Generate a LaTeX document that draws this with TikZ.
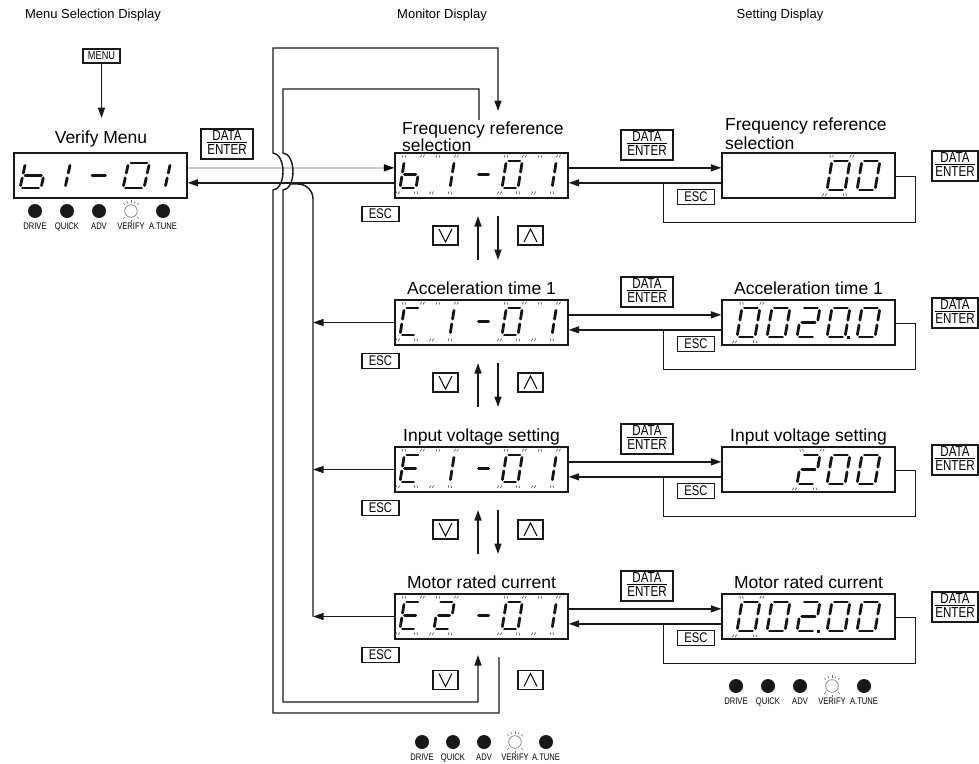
\documentclass[tikz,border=0pt]{standalone}
\usepackage{fontspec}
\setmainfont{Liberation Sans}
\newfontfamily\narrowfont[FakeStretch=0.8]{Liberation Sans}
\usetikzlibrary{arrows.meta,calc}

\tikzset{
  ln/.style={line width=1.45pt, draw=black!90},
  arr/.style={ln, -{Triangle[length=10.5pt,width=7pt]}},
  grayarr/.style={line width=1.5pt, draw=black!20, -{Triangle[length=10.5pt,width=7pt,color=black]}},
  disp/.style={draw=black!90, line width=1.3pt, minimum width=173pt, minimum height=45pt, inner sep=0pt},
  btn/.style={draw=black!90, line width=1.1pt, inner sep=0pt},
  de/.style={btn, minimum width=52pt, minimum height=30pt},
  der/.style={btn, minimum width=46pt, minimum height=30pt},
  escb/.style={btn, minimum width=37pt, minimum height=15.5pt, font=\narrowfont\fontsize{14}{14}\selectfont},
  keyb/.style={btn, minimum width=25pt, minimum height=19pt},
  lbl/.style={inner sep=0pt, font=\fontsize{17.5}{17.5}\selectfont},
  ttl/.style={inner sep=0pt, font=\fontsize{13}{13}\selectfont},
  ledlbl/.style={inner sep=0pt, anchor=base, font=\narrowfont\fontsize{9.5}{9.5}\selectfont},
  seg/.style={line width=2.8pt, line cap=round, draw=black!92},
  tick/.style={line width=0.6pt, draw=black!70},
}

\def\sgap{2.4}
\newcommand\segA{\draw[seg] (\sgap,-\sgh) -- ({\sgw-\sgap},-\sgh);}
\newcommand\segB{\draw[seg] (\sgw,{-\sgh+\sgap}) -- (\sgw,{-\sgh/2-\sgap});}
\newcommand\segC{\draw[seg] (\sgw,{-\sgh/2+\sgap}) -- (\sgw,-\sgap);}
\newcommand\segD{\draw[seg] (\sgap,0) -- ({\sgw-\sgap},0);}
\newcommand\segE{\draw[seg] (0,{-\sgh/2+\sgap}) -- (0,-\sgap);}
\newcommand\segF{\draw[seg] (0,{-\sgh+\sgap}) -- (0,{-\sgh/2-\sgap});}
\newcommand\segG{\draw[seg] (\sgap,{-\sgh/2}) -- ({\sgw-\sgap},{-\sgh/2});}
\newcommand\dZero{\segA\segB\segC\segD\segE\segF}
\newcommand\dOne{\segB\segC}
\newcommand\dTwo{\segA\segB\segG\segE\segD}
\newcommand\dLb{\segF\segE\segD\segC\segG}
\newcommand\dCc{\segA\segF\segE\segD}
\newcommand\dEe{\segA\segF\segG\segE\segD}
\newcommand\dDash{\segG}

% digit: x0, ybottom, w, h, slant, segments
\newcommand\dg[6]{\begin{scope}[shift={(#1,#2)},xslant=#5]\def\sgw{#3}\def\sgh{#4}#6\end{scope}}
% blink ticks: x0, ybottom, w, h, slant
\newcommand\blk[5]{\begin{scope}[shift={(#1,#2)},xslant=#5]\def\sgw{#3}\def\sgh{#4}%
  \draw[tick] (-2,{-\sgh-3.5}) -- ++(-1.2,-2.6) (0.8,{-\sgh-3.5}) -- ++(-1.2,-2.6)
   ({\sgw-0.8},{-\sgh-3.5}) -- ++(1.2,-2.6) ({\sgw+2},{-\sgh-3.5}) -- ++(1.2,-2.6)
   (-2.5,3.5) -- ++(-1.2,2.6) (0.3,3.5) -- ++(-1.2,2.6)
   ({\sgw-1.3},3.5) -- ++(1.2,2.6) ({\sgw+1.5},3.5) -- ++(1.2,2.6);
  \end{scope}}
% monitor digits
\newcommand\mon[3]{\dg{400+34*#2}{#1+35}{16}{27}{0.16}{#3}}
\newcommand\mblk[2]{\blk{400+34*#2}{#1+35}{16}{27}{0.16}}
\newcommand\monrow[3]{\mon{#1}{0}{#2}\mblk{#1}{0}\mon{#1}{1}{#3}\mblk{#1}{1}%
  \dg{474}{#1+35}{15}{27}{0.16}{\dDash}\mon{#1}{3}{\dZero}\mblk{#1}{3}\mon{#1}{4}{\dOne}\mblk{#1}{4}}
% setting digits
\newcommand\setd[3]{\dg{737+30*#2}{#1+37}{18}{29}{0.17}{#3}}
\newcommand\sblk[2]{\blk{737+30*#2}{#1+37}{18}{29}{0.17}}
\newcommand\sdot[2]{\fill[black!92] (737+30*#2+18+2.2,#1+37-1.5) rectangle ++(3,3);}

\newcommand\dataenter{\narrowfont\fontsize{14.5}{12}\selectfont\setlength\arrayrulewidth{0.9pt}%
  \renewcommand\arraystretch{0.8}%
  \begin{tabular}{@{}c@{}}DATA\\[-1.5pt]\hline\rule{0pt}{11.3pt}ENTER\end{tabular}}

\newcommand\ledrow[4]{%
 \foreach \k/\t in {0/DRIVE,1/QUICK,2/ADV,3/VERIFY,4/A.TUNE}{%
  \pgfmathsetmacro\lx{#1+#3*\k}%
  \ifnum\k=3
    \draw[black!50,fill=white,line width=0.7pt] (\lx,#2) circle[radius=6.3pt];
    \foreach \a in {45,67.5,90,112.5,135,225,270,315}{\draw[black!55,line width=0.6pt] ($(\lx,#2)+(\a:8.5pt)$) -- ($(\lx,#2)+(\a:11pt)$);}
  \else
    \fill[black!90] (\lx,#2) circle[radius=7pt];
  \fi
  \node[ledlbl] (#4\k) at (\lx,#2+18.5) {\t};
 }}

\begin{document}
\begin{tikzpicture}[x=1pt,y=-1pt]
\useasboundingbox (0,0) rectangle (979,763);

% titles
\node[ttl] (tA) at (93,15) {Menu Selection Display};
\node[ttl] (tB) at (442,15) {Monitor Display};
\node[ttl] (tC) at (780,15) {Setting Display};

% menu selection column
\node[btn,font=\narrowfont\fontsize{11.5}{11.5}\selectfont,minimum width=37pt,minimum height=14pt] (mb) at (101.5,56) {MENU};
\coordinate (vtip) at (101.5,118);
\draw[arr] (mb.south) -- (vtip);
\node[lbl,anchor=base] (vl) at (101,143) {Verify Menu};
\node[disp] (v) at (100.5,175.5) {};
\node[de] (de0) at (227,144) {\dataenter};
\dg{20}{188}{21}{25}{0.22}{\dLb}
\dg{44}{188}{21}{25}{0.22}{\dOne}
\dg{87}{188}{18}{25}{0.22}{\dDash}
\dg{123}{188}{21}{25}{0.22}{\dZero}
\dg{144}{188}{21}{25}{0.22}{\dOne}
\ledrow{35}{211}{32}{lv}

% rows
\foreach \i/\T in {1/153,2/300,3/447,4/594}{
  \node[disp] (m\i) at (481.5,\T+22.5) {};
  \node[disp] (s\i) at (808.5,\T+22.5) {};
  \node[de] (dm\i) at (647,\T-8) {\dataenter};
  \node[der] (dr\i) at (955,\T+13) {\dataenter};
  \node[escb] (es\i) at (696,\T+44) {ESC};
  \node[escb] (em\i) at (380.5,\T+61) {ESC};
  \draw[arr] ($(m\i.north east)+(0,15.5)$) -- ($(s\i.north west)+(0,15.5)$);
  \draw[arr] ($(s\i.north west)+(0,30.5)$) -- ($(m\i.north east)+(0,30.5)$);
  \draw[ln] ($(s\i.north east)+(0,24)$) -| ($(s\i.north east)+(20,70)$) -| ($(s\i.north west)+(-58,30.5)$);
}

% labels
\node[lbl,anchor=base west] (ml1a) at (402,134) {Frequency reference};
\node[lbl,anchor=base west] (ml1b) at (402,151) {selection};
\node[lbl,anchor=base] (ml2) at (481.5,294) {Acceleration time 1};
\node[lbl,anchor=base] (ml3) at (481.5,441) {Input voltage setting};
\node[lbl,anchor=base] (ml4) at (481.5,588) {Motor rated current};
\node[lbl,anchor=base west] (sl1a) at (725,130) {Frequency reference};
\node[lbl,anchor=base west] (sl1b) at (725,149) {selection};
\node[lbl,anchor=base] (sl2) at (808.5,294) {Acceleration time 1};
\node[lbl,anchor=base] (sl3) at (808.5,441) {Input voltage setting};
\node[lbl,anchor=base] (sl4) at (808.5,588) {Motor rated current};

% monitor digits
\monrow{153}{\dLb}{\dOne}
\monrow{300}{\dCc}{\dOne}
\monrow{447}{\dEe}{\dOne}
\monrow{594}{\dEe}{\dTwo}

% setting digits
\setd{153}{3}{\dZero}\setd{153}{4}{\dZero}\sblk{153}{3}
\setd{300}{0}{\dZero}\setd{300}{1}{\dZero}\setd{300}{2}{\dTwo}\setd{300}{3}{\dZero}\setd{300}{4}{\dZero}\sdot{300}{3}\sblk{300}{0}
\setd{447}{2}{\dTwo}\setd{447}{3}{\dZero}\setd{447}{4}{\dZero}\sblk{447}{2}
\setd{594}{0}{\dZero}\setd{594}{1}{\dZero}\setd{594}{2}{\dTwo}\setd{594}{3}{\dZero}\setd{594}{4}{\dZero}\sdot{594}{2}\sblk{594}{0}

% verify <-> first monitor
\draw[grayarr] ($(v.north east)+(0,15.5)$) -- ($(m1.north west)+(0,15.5)$);
\draw[arr] ($(m1.north west)+(0,30.5)$) -- ($(v.north east)+(0,30.5)$);
\coordinate (j) at (313,184);
\draw[ln, rounded corners=15pt] (m4.west -| j) -- (j) -- ($(j)+(-22,0)$);
\foreach \i in {2,3,4}{\draw[arr] (m\i.west) -- (m\i.west -| j);}

% up/down between rows
\foreach \i/\B in {1/198,2/345,3/492}{
  \coordinate (ua\i) at (478,\B+62);
  \coordinate (ub\i) at (478,\B+18);
  \coordinate (da\i) at (498,\B+18);
  \coordinate (db\i) at (498,\B+62);
  \draw[arr] (ua\i) -- (ub\i);
  \draw[arr] (da\i) -- (db\i);
  \node[keyb] (kv\i) at (445.5,\B+37.5) {};
  \node[keyb] (kw\i) at (530.5,\B+37.5) {};
}
\node[keyb] (kv4) at (445.5,680) {};
\node[keyb] (kw4) at (530.5,680) {};
\foreach \i in {1,2,3,4}{
  \draw[line width=1pt] ($(kv\i.center)+(-6.5,-6.5)$) -- ($(kv\i.center)+(0,6.5)$) -- ($(kv\i.center)+(6.5,-6.5)$);
  \draw[line width=1pt] ($(kw\i.center)+(-6.5,6.5)$) -- ($(kw\i.center)+(0,-6.5)$) -- ($(kw\i.center)+(6.5,6.5)$);
}

% wrap-around loops
\coordinate (ob) at (499,657);
\coordinate (otip) at (498,111);
\draw[arr] (ob) -- (499,713) -- (273,713) -- (273,190)
  arc[start angle=-90,end angle=90,x radius=10pt,y radius=18.5pt] -- (273,48) -| (otip);
\coordinate (itop) at (479,120);
\coordinate (ibot) at (478,655);
\draw[arr] (itop) -- (479,89) -- (283,89) -- (283,153)
  arc[start angle=90,end angle=-90,x radius=10pt,y radius=18.5pt] -- (283,702) -| (ibot);

% LED rows
\ledrow{422}{742}{31}{lm}
\ledrow{736}{686}{32}{ls}
\end{tikzpicture}
\end{document}
